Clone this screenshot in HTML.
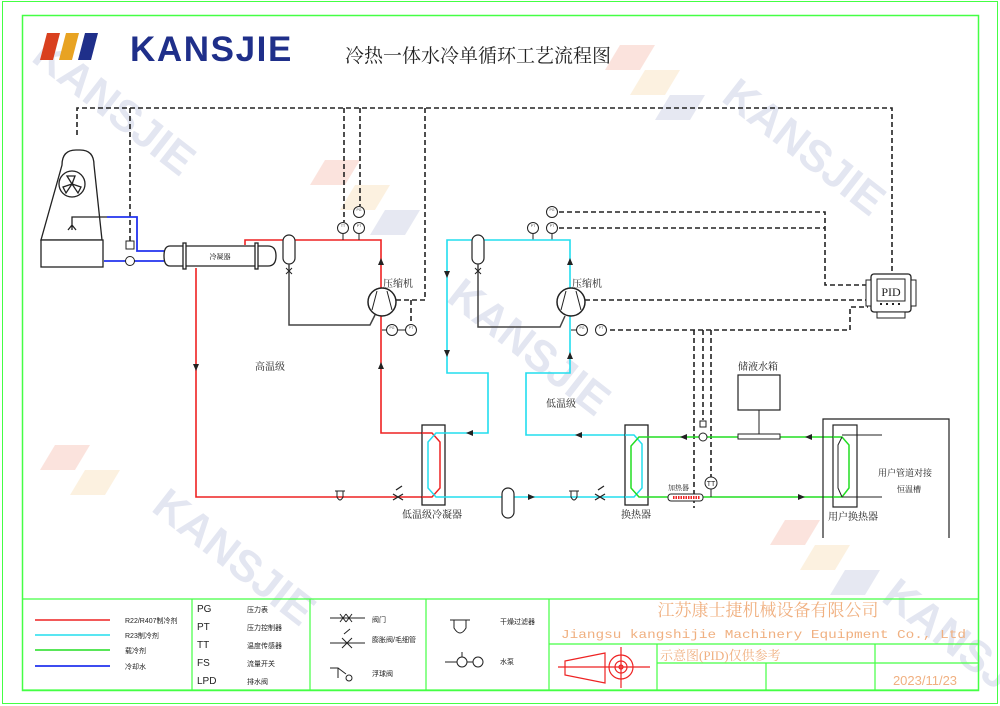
<!DOCTYPE html>
<html><head><meta charset="utf-8"><style>
html,body{margin:0;padding:0;background:#fff}
svg{display:block}
text{font-family:"Liberation Sans","Noto Sans CJK SC",sans-serif}
.s{font-family:"Liberation Serif","Noto Serif CJK SC",serif}
</style></head><body>
<svg width="1000" height="706" viewBox="0 0 1000 706" xmlns="http://www.w3.org/2000/svg">
<g fill="#e3e6f1" font-weight="bold" font-size="44">
<text transform="translate(30,60) rotate(38)">KANSJIE</text>
<text transform="translate(720,100) rotate(38)">KANSJIE</text>
<text transform="translate(445,300) rotate(38)">KANSJIE</text>
<text transform="translate(150,510) rotate(38)">KANSJIE</text>
<text transform="translate(880,600) rotate(38)">KANSJ</text>
</g>
<g opacity="0.35">
<polygon points="620,45 655,45 640,70 605,70" fill="#f4b0a0"/><polygon points="645,70 680,70 665,95 630,95" fill="#f7d9a8"/><polygon points="670,95 705,95 690,120 655,120" fill="#b8bedb"/>
<polygon points="325,160 360,160 345,185 310,185" fill="#f4b0a0"/><polygon points="355,185 390,185 375,210 340,210" fill="#f7d9a8"/><polygon points="385,210 420,210 405,235 370,235" fill="#b8bedb"/>
<polygon points="55,445 90,445 75,470 40,470" fill="#f4b0a0"/><polygon points="85,470 120,470 105,495 70,495" fill="#f7d9a8"/>
<polygon points="785,520 820,520 805,545 770,545" fill="#f4b0a0"/><polygon points="815,545 850,545 835,570 800,570" fill="#f7d9a8"/><polygon points="845,570 880,570 865,595 830,595" fill="#b8bedb"/>
</g>
<rect x="2.5" y="1.5" width="995" height="702" fill="none" stroke="#4f4" stroke-width="1"/>
<rect x="22.5" y="15.5" width="956" height="675" fill="none" stroke="#4f4" stroke-width="1.5"/>
<polygon points="47,33 60,33 53,60 40,60" fill="#d9401f"/>
<polygon points="66,33 79,33 72,60 59,60" fill="#e8a322"/>
<polygon points="85,33 98,33 91,60 78,60" fill="#1f2f8a"/>
<text x="130" y="61" font-size="35" font-weight="bold" fill="#1f2f8a" letter-spacing="1.6">KANSJIE</text>
<text x="345" y="62" font-size="19" class="s" fill="#222">冷热一体水冷单循环工艺流程图</text>

<g fill="none" stroke="#222" stroke-width="1.6" stroke-dasharray="5,3">
<path d="M77,135 V108 H892 V285"/>
<path d="M130,108 V243"/>
<path d="M344,108 V222"/>
<path d="M360,108 V206"/>
<path d="M425,108 V300 H396"/>
<path d="M411,300 V324"/>
<path d="M559,212 H825 V285 H868"/>
<path d="M559,228 H825"/>
<path d="M585,300 H868"/>
<path d="M610,330 H850 V307 H868"/>
<path d="M694,330 V508"/>
<path d="M703,330 V420"/>
<path d="M711,330 V477"/>
</g>

<g fill="#fff" stroke="#222" stroke-width="1.3">
<path d="M62,165 Q62,150 76,150 H80 Q94,150 94,165 L102,240 H41 Z"/>
<rect x="41" y="240" width="62" height="27"/>
<circle cx="72" cy="184" r="13"/>
<path d="M72,184 l-5,-8 h8 z M72,184 l9,3 -3,6 z M72,184 l-9,3 3,6 z" fill="none"/>
<path d="M107,217 H72 V225 M68,230 l4,-5 4,5 M72,225 V230" fill="none"/>
</g>
<g fill="none" stroke="#2233ee" stroke-width="1.8">
<path d="M107,217 H137 V251 H164"/>
<path d="M104,261 H164"/>
</g>
<circle cx="130" cy="261" r="4.5" fill="#fff" stroke="#222"/>
<rect x="126" y="241" width="8" height="8" fill="#fff" stroke="#222"/>
<g fill="#fff" stroke="#222" stroke-width="1.3">
<path d="M170,246 H268 Q276,246 276,256 Q276,266 268,266 H170 Q164,266 164,256 Q164,246 170,246 Z"/>
<rect x="183" y="243" width="3" height="26"/><rect x="255" y="243" width="3" height="26"/>
</g>
<text x="220" y="259" font-size="7" text-anchor="middle" class="s">冷凝器</text>

<g fill="none" stroke="#ee2222" stroke-width="1.6">
<path d="M245,245 V240 H381 V288"/>
<path d="M381,316 V433 H422"/>
<path d="M196,268 V497 H422"/>
</g>
<polygon points="381,258 378,265 384,265" fill="#222"/>
<polygon points="381,362 378,369 384,369" fill="#222"/>
<polygon points="196,371 193,364 199,364" fill="#222"/>
<rect x="283" y="235" width="12" height="29" rx="6" fill="#fff" stroke="#222" stroke-width="1.2"/>
<path d="M289,264 V325 H370 L375,315" fill="none" stroke="#444" stroke-width="1.5"/>
<path d="M286,268 l6,6 m0,-6 l-6,6" stroke="#222"/>
<circle cx="382" cy="302" r="14" fill="#fff" stroke="#222" stroke-width="1.5"/>
<path d="M372,310 L377,291 M392,310 L387,291" stroke="#222"/>
<text x="383" y="287" font-size="10" class="s" fill="#222">压缩机</text>
<text x="255" y="370" font-size="10" class="s" fill="#222">高温级</text>
<g fill="#fff" stroke="#222" stroke-width="1">
<circle cx="343" cy="228" r="5.5"/><circle cx="359" cy="228" r="5.5"/><circle cx="359" cy="212" r="5.5"/>
<circle cx="392" cy="330" r="5.5"/><circle cx="411" cy="330" r="5.5"/>
<circle cx="533" cy="228" r="5.5"/><circle cx="552" cy="228" r="5.5"/><circle cx="552" cy="212" r="5.5"/>
<circle cx="582" cy="330" r="5.5"/><circle cx="601" cy="330" r="5.5"/>
</g>
<g font-size="3.5" text-anchor="middle" fill="#444">
<text x="343" y="227">TT</text><text x="359" y="227">PT</text><text x="359" y="211">PG</text>
<text x="392" y="329">PG</text><text x="411" y="329">PT</text>
<text x="533" y="227">PT</text><text x="552" y="227">PT</text><text x="552" y="211">PG</text>
<text x="582" y="329">PG</text><text x="601" y="329">PT</text>
</g>
<path d="M343,234 V240 M359,234 V240 M386,330 H382 M533,234 V240 M552,234 V240 M576,330 H571 M398,330 H405" stroke="#222"/>

<rect x="422" y="425" width="23" height="80" fill="#fff" stroke="#222" stroke-width="1.3"/>
<path d="M422,433 H432 L440,442 V488 L432,497 H422" fill="none" stroke="#ee2222" stroke-width="1.5"/>
<path d="M445,433 H436 L428,442 V488 L436,497 H445" fill="none" stroke="#22ddee" stroke-width="1.5"/>
<g fill="none" stroke="#22ddee" stroke-width="1.6">
<path d="M445,433 H488 V373 H447 V240 H570 V288"/>
<path d="M570,316 V373 H526 V435 H625"/>
<path d="M445,497 H625"/>
</g>
<g fill="#222">
<polygon points="447,278 444,271 450,271"/><polygon points="447,357 444,350 450,350"/>
<polygon points="570,258 567,265 573,265"/><polygon points="570,352 567,359 573,359"/>
<polygon points="466,433 473,430 473,436"/><polygon points="575,435 582,432 582,438"/>
<polygon points="535,497 528,494 528,500"/>
</g>
<rect x="472" y="235" width="12" height="29" rx="6" fill="#fff" stroke="#222" stroke-width="1.2"/>
<path d="M478,264 V327 H560 L565,316" fill="none" stroke="#444" stroke-width="1.5"/>
<path d="M475,268 l6,6 m0,-6 l-6,6" stroke="#222"/>
<circle cx="571" cy="302" r="14" fill="#fff" stroke="#222" stroke-width="1.5"/>
<path d="M561,310 L566,291 M581,310 L576,291" stroke="#222"/>
<text x="572" y="287" font-size="10" class="s" fill="#222">压缩机</text>
<text x="546" y="407" font-size="10" class="s" fill="#222">低温级</text>
<rect x="502" y="488" width="12" height="30" rx="6" fill="#fff" stroke="#222" stroke-width="1.2"/>
<path d="M335,491 h10 M337,491 v6 q3,6 6,0 v-6" fill="none" stroke="#222"/>
<path d="M569,491 h10 M571,491 v6 q3,6 6,0 v-6" fill="none" stroke="#222"/>
<path d="M393,500 l10,-6 m-10,0 l10,6 M396,490 l6,-4" stroke="#222" stroke-width="1.3"/>
<path d="M595,500 l10,-6 m-10,0 l10,6 M598,490 l6,-4" stroke="#222" stroke-width="1.3"/>
<text x="432" y="518" font-size="10" class="s" text-anchor="middle" fill="#222">低温级冷凝器</text>

<rect x="625" y="425" width="23" height="80" fill="#fff" stroke="#222" stroke-width="1.3"/>
<path d="M625,435 H634 L642,444 V488 L634,497 H625" fill="none" stroke="#22ddee" stroke-width="1.5"/>
<path d="M648,437 H639 L631,446 V488 L639,497 H648" fill="none" stroke="#22dd22" stroke-width="1.5"/>
<text x="636" y="518" font-size="10" class="s" text-anchor="middle" fill="#222">换热器</text>
<g fill="none" stroke="#22dd22" stroke-width="1.6">
<path d="M648,437 H833"/>
<path d="M648,497 H833"/>
</g>
<g fill="#222">
<polygon points="680,437 687,434 687,440"/><polygon points="805,437 812,434 812,440"/>
<polygon points="805,497 798,494 798,500"/>
</g>
<rect x="668" y="494" width="35" height="7" rx="3" fill="#fff" stroke="#222"/>
<path d="M673,497.5 H700" stroke="#e22" stroke-width="3" stroke-dasharray="1.5,1"/>
<text x="668" y="490" font-size="7" class="s" fill="#222">加热器</text>
<circle cx="703" cy="437" r="4" fill="#fff" stroke="#222"/>
<rect x="700" y="421" width="6" height="6" fill="#fff" stroke="#222"/>
<circle cx="711" cy="483" r="6" fill="#fff" stroke="#222"/>
<text x="711" y="486" font-size="7" text-anchor="middle" fill="#222">TT</text>
<path d="M711,489 V497" stroke="#222"/>
<rect x="738" y="375" width="42" height="35" fill="#fff" stroke="#222" stroke-width="1.2"/>
<path d="M759,410 V434" stroke="#222"/>
<rect x="738" y="434" width="42" height="5" fill="#fff" stroke="#222"/>
<text x="738" y="370" font-size="10" class="s" fill="#222">储液水箱</text>
<path d="M823,538 V419 H949 V538" fill="none" stroke="#222" stroke-width="1.2"/>
<rect x="833" y="425" width="24" height="82" fill="none" stroke="#222" stroke-width="1.2"/>
<path d="M833,437 H842 L849,445 V488 L842,497 H833" fill="none" stroke="#22dd22" stroke-width="1.5"/>
<path d="M842,437 L838,445 V488 L842,497 M842,435 H882 M842,497 H882" fill="none" stroke="#222" stroke-width="1"/>
<text x="878" y="476" font-size="9" class="s" fill="#222">用户管道对接</text>
<text x="897" y="492" font-size="8" class="s" fill="#222">恒温槽</text>
<text x="828" y="520" font-size="10" class="s" fill="#222">用户换热器</text>

<rect x="871" y="274" width="40" height="38" rx="3" fill="#fff" stroke="#222" stroke-width="1.3"/>
<rect x="866" y="280" width="5" height="26" fill="#fff" stroke="#222"/><rect x="911" y="280" width="5" height="26" fill="#fff" stroke="#222"/>
<rect x="877" y="279" width="28" height="22" fill="#fff" stroke="#222"/>
<text x="891" y="296" font-size="12" text-anchor="middle" class="s" fill="#222">PID</text>
<path d="M880,304 h2 m4,0 h2 m4,0 h2 m4,0 h2" stroke="#222" stroke-width="2"/>
<rect x="877" y="312" width="28" height="6" fill="#fff" stroke="#222"/>

<g fill="none" stroke="#4f4" stroke-width="1.2">
<path d="M22,599 H978 M22,690 H978 M192,599 V690 M310,599 V690 M426,599 V690 M549,599 V690 M549,644 H978 M657,644 V690 M766,663 V690 M875,644 V690 M657,663 H978"/>
</g>
<path d="M35,620 H110" stroke="#ee2222" stroke-width="1.6"/>
<path d="M35,635 H110" stroke="#22ddee" stroke-width="1.6"/>
<path d="M35,650 H110" stroke="#22dd22" stroke-width="1.6"/>
<path d="M35,666 H110" stroke="#2233ee" stroke-width="1.8"/>
<g font-size="7" class="s" fill="#222">
<text x="125" y="623">R22/R407制冷剂</text><text x="125" y="638">R23制冷剂</text><text x="125" y="653">载冷剂</text><text x="125" y="669">冷却水</text>
<text x="247" y="612">压力表</text><text x="247" y="630">压力控制器</text><text x="247" y="648">温度传感器</text><text x="247" y="666">流量开关</text><text x="247" y="684">排水阀</text>
<text x="372" y="622">阀门</text><text x="372" y="642">膨胀阀/毛细管</text><text x="372" y="676">浮球阀</text>
<text x="500" y="624">干燥过滤器</text><text x="500" y="664">水泵</text>
</g>
<g font-size="10" fill="#222">
<text x="197" y="612">PG</text><text x="197" y="630">PT</text><text x="197" y="648">TT</text><text x="197" y="666">FS</text><text x="197" y="684">LPD</text>
</g>
<g stroke="#222" fill="none" stroke-width="1">
<path d="M330,618 H365 M340,614 l6,8 m0,-8 l-6,8 M346,614 l6,8 m0,-8 l-6,8"/>
<path d="M330,643 H365 M342,638 l10,10 m0,-10 l-10,10 M344,634 l6,-5"/>
<path d="M330,668 h8 v10 M338,668 l8,6"/><circle cx="349" cy="678" r="3"/>
<path d="M450,620 h20 M454,620 v8 q6,10 12,0 v-8"/>
<circle cx="462" cy="662" r="5"/><circle cx="478" cy="662" r="5"/><path d="M445,662 h12 M467,662 h6 M462,652 v5"/>
</g>
<text x="768" y="616" font-size="17" class="s" text-anchor="middle" fill="#f0b080">江苏康士捷机械设备有限公司</text>
<text x="561" y="638" font-size="12" fill="#f0b080" textLength="405" lengthAdjust="spacingAndGlyphs" style="font-family:'Liberation Mono',monospace">Jiangsu kangshijie Machinery Equipment Co., Ltd</text>
<text x="660" y="660" font-size="13" class="s" fill="#f0b080">示意图(PID)仅供参考</text>
<text x="925" y="685" font-size="13" text-anchor="middle" fill="#f0b080">2023/11/23</text>
<g stroke="#e22" fill="none" stroke-width="1.2">
<path d="M565,661 L605,653 V683 L565,675 Z"/>
<circle cx="621" cy="667" r="12"/><circle cx="621" cy="667" r="6"/><circle cx="621" cy="667" r="2"/>
<path d="M558,667 H650 M621,647 V688"/>
</g>
</svg>
</body></html>
